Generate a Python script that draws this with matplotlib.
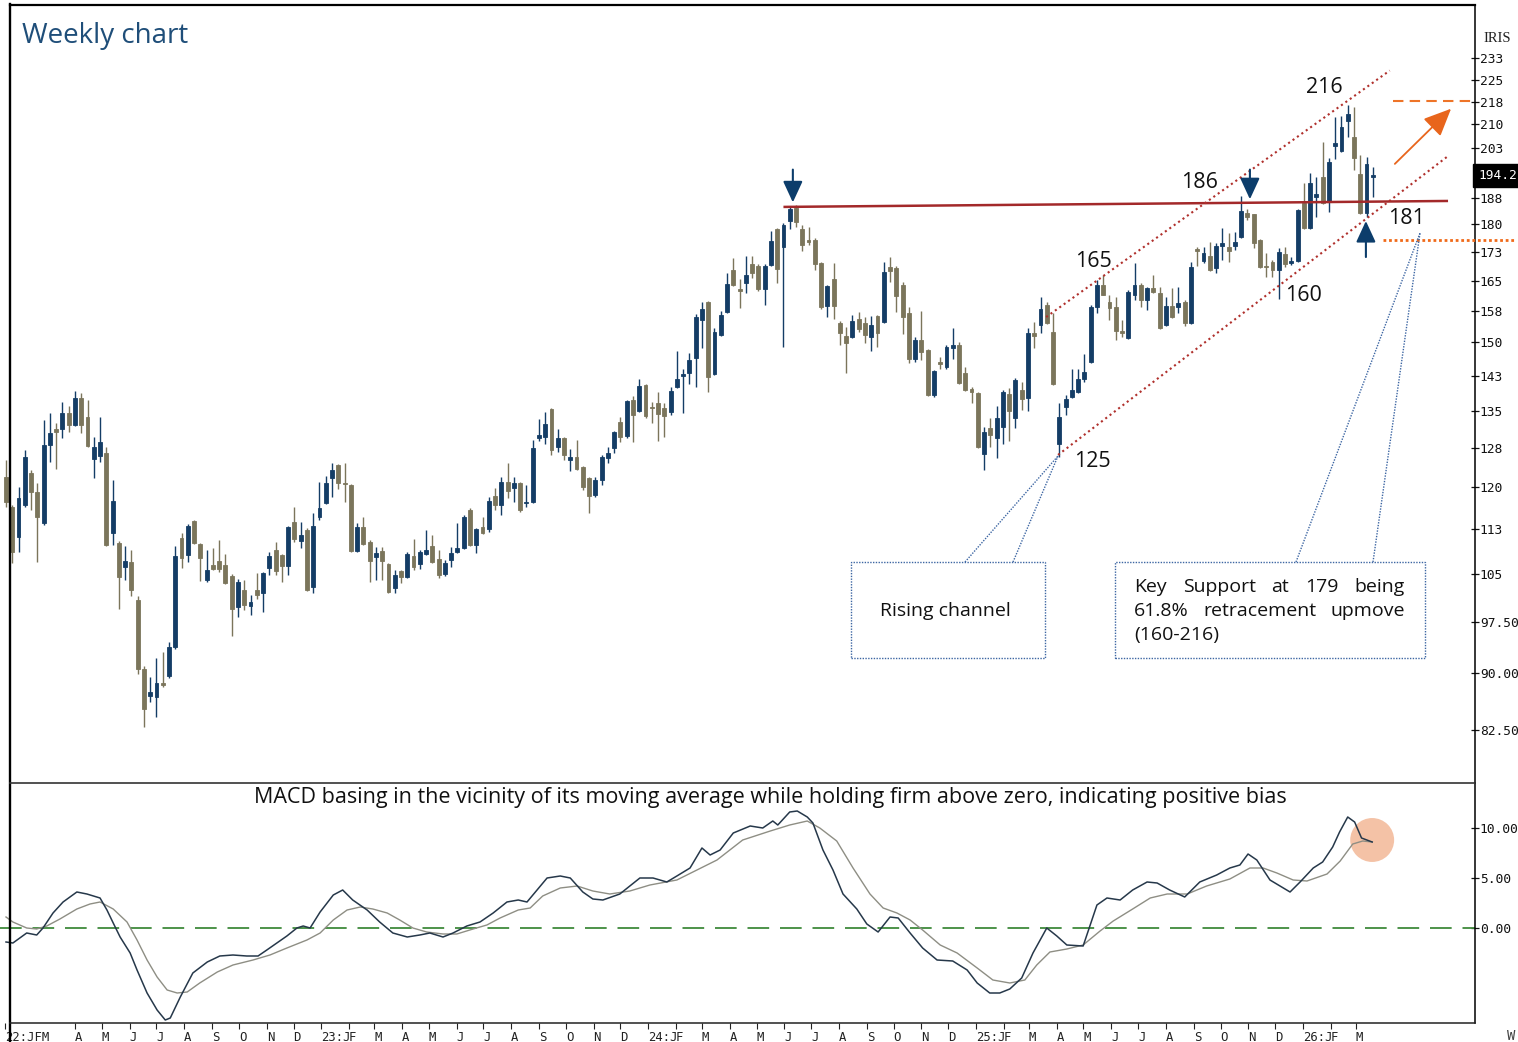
import numpy as np
import pandas as pd
import matplotlib
matplotlib.use("Agg")
import matplotlib.pyplot as plt
from matplotlib.lines import Line2D
from matplotlib.patches import Rectangle
from matplotlib.transforms import blended_transform_factory

plt.rcParams["font.family"] = ["Open Sans", "DejaVu Sans"]

# ── weekly OHLC ──────────────────────────────────────────────────────────────
first_bar = "2022-01-14"

opens = [
    121.9, 116.4, 111.1, 116.8, 122.6, 119.1, 113.6, 128.1, 131.3, 131.3,
    134.6, 132.1, 137.7, 133.7, 125.3, 125.9, 126.5, 111.8, 110.1, 106.1,
    106.9, 100.8, 90.6, 86.9, 86.8, 88.7, 89.7, 93.7, 110.9, 108.1,
    113.9, 109.9, 104.0, 106.4, 107.0, 106.4, 104.6, 99.7, 102.4, 99.9,
    102.4, 101.9, 105.9, 108.9, 108.1, 106.2, 113.7, 110.4, 112.3, 102.9,
    114.6, 117.1, 121.7, 124.1, 120.8, 120.4, 108.7, 112.8, 110.3, 107.7,
    108.7, 106.6, 102.7, 105.4, 104.5, 107.9, 106.6, 108.2, 109.6, 107.4,
    104.9, 107.2, 108.6, 109.2, 115.9, 109.7, 112.8, 112.5, 118.4, 116.8,
    120.9, 119.9, 120.8, 117.1, 117.3, 129.5, 129.7, 135.4, 127.7, 129.5,
    125.1, 125.7, 123.8, 121.7, 118.6, 121.3, 125.5, 127.5, 132.7, 129.9,
    137.3, 135.0, 140.5, 135.8, 136.7, 135.6, 134.8, 140.1, 142.5, 143.1,
    146.5, 155.3, 159.7, 142.9, 151.7, 157.2, 167.8, 162.9, 164.4, 169.3,
    168.8, 163.0, 169.1, 178.8, 173.8, 181.0, 184.6, 178.8, 175.7, 175.7,
    169.6, 158.7, 165.5, 154.6, 151.5, 151.3, 155.5, 154.6, 151.3, 156.3,
    154.8, 168.6, 168.3, 163.9, 157.0, 146.2, 150.6, 148.3, 138.3, 145.5,
    144.4, 148.8, 149.5, 143.1, 139.6, 138.8, 126.3, 131.5, 129.5, 131.7,
    138.6, 133.5, 139.4, 137.7, 152.2, 154.1, 159.0, 152.4, 128.3, 135.8,
    137.9, 139.0, 141.8, 145.6, 158.4, 163.9, 159.7, 158.4, 152.7, 151.1,
    161.5, 163.9, 160.2, 163.2, 161.9, 154.1, 158.7, 158.4, 159.7, 154.6,
    173.3, 170.1, 171.4, 168.3, 174.1, 173.8, 174.1, 176.5, 183.1, 182.8,
    175.7, 168.7, 169.9, 167.8, 172.0, 169.6, 170.1, 186.0, 179.0, 187.8,
    193.7, 186.3, 203.1, 201.6, 211.2, 206.0, 194.6, 183.1, 193.6,
]
highs = [
    125.1, 116.8, 120.0, 127.1, 123.2, 120.8, 133.1, 134.6, 132.5, 136.9,
    136.0, 139.2, 138.8, 137.3, 129.7, 133.7, 127.7, 121.3, 110.4, 109.6,
    108.9, 101.4, 91.0, 89.5, 92.2, 93.0, 94.5, 109.6, 111.8, 113.4,
    114.1, 110.1, 108.9, 109.2, 110.6, 108.2, 104.9, 104.2, 104.0, 101.6,
    105.1, 105.3, 108.6, 110.3, 108.3, 113.0, 116.4, 113.7, 112.7, 115.2,
    120.9, 122.1, 124.5, 124.3, 124.5, 120.6, 113.6, 114.6, 110.5, 109.4,
    109.4, 106.8, 105.6, 105.6, 108.6, 110.8, 108.9, 112.3, 111.5, 108.9,
    107.2, 109.4, 113.6, 115.0, 116.1, 112.7, 114.6, 118.2, 119.9, 121.9,
    124.5, 121.9, 121.0, 120.4, 129.1, 133.3, 134.8, 135.6, 131.3, 129.7,
    127.3, 129.1, 124.0, 121.9, 121.9, 126.1, 127.7, 130.9, 133.7, 137.3,
    138.1, 141.8, 140.7, 136.9, 139.0, 136.7, 140.1, 148.1, 144.0, 147.6,
    156.7, 159.7, 160.0, 153.4, 157.5, 167.0, 170.9, 165.5, 171.4, 171.4,
    169.3, 169.3, 178.2, 179.0, 180.4, 184.9, 185.4, 179.8, 179.3, 176.3,
    169.8, 163.9, 169.6, 155.0, 153.6, 156.5, 157.2, 156.0, 156.3, 156.5,
    169.9, 171.2, 168.8, 164.7, 158.4, 151.3, 157.5, 148.5, 143.8, 146.7,
    149.5, 153.4, 150.2, 144.4, 140.1, 139.0, 131.7, 133.5, 136.0, 139.4,
    139.8, 142.0, 141.2, 153.4, 154.8, 161.0, 159.7, 157.0, 136.7, 138.4,
    144.0, 144.0, 147.4, 159.0, 165.2, 166.5, 161.5, 161.0, 155.3, 162.7,
    169.6, 164.4, 163.4, 166.5, 163.4, 161.0, 163.2, 163.4, 160.2, 169.9,
    173.8, 173.8, 175.2, 174.9, 179.0, 177.6, 177.9, 188.0, 184.3, 183.0,
    175.9, 172.2, 170.4, 173.5, 173.8, 171.2, 184.3, 191.9, 194.9, 193.7,
    204.5, 199.4, 212.5, 212.8, 216.5, 215.8, 200.4, 199.7, 196.7,
]
lows = [
    116.4, 106.7, 108.6, 116.4, 115.9, 106.9, 113.2, 124.7, 123.4, 129.5,
    130.7, 131.8, 130.5, 127.7, 121.7, 124.7, 109.5, 109.7, 99.4, 104.0,
    101.4, 89.9, 82.9, 86.1, 84.2, 88.1, 89.4, 93.5, 105.9, 106.9,
    109.9, 103.8, 103.7, 105.6, 105.3, 103.3, 95.4, 98.2, 99.3, 98.5,
    101.0, 99.0, 104.8, 104.8, 103.7, 104.8, 110.3, 109.2, 102.2, 101.9,
    114.1, 116.9, 118.2, 119.7, 117.3, 108.5, 108.6, 109.7, 103.7, 104.0,
    104.0, 101.9, 101.9, 103.5, 104.3, 105.6, 105.8, 108.1, 106.7, 104.3,
    104.6, 106.1, 108.4, 109.0, 109.5, 108.4, 111.6, 112.0, 115.9, 115.0,
    118.0, 117.3, 115.4, 116.4, 117.1, 128.9, 128.3, 126.1, 126.7, 125.1,
    123.0, 123.2, 119.5, 115.2, 118.2, 120.4, 124.5, 126.5, 128.7, 129.5,
    128.7, 134.8, 133.5, 132.5, 128.9, 129.7, 134.1, 139.9, 134.6, 140.7,
    140.1, 148.8, 139.0, 142.7, 151.5, 157.0, 163.7, 158.2, 162.0, 165.7,
    162.5, 159.0, 168.8, 164.4, 149.0, 178.8, 179.3, 172.7, 174.3, 167.8,
    157.9, 156.0, 155.5, 149.5, 143.1, 151.1, 152.4, 149.9, 148.1, 149.0,
    154.6, 164.7, 157.2, 152.0, 145.4, 145.5, 146.0, 138.1, 137.9, 144.0,
    144.0, 146.2, 140.7, 139.2, 136.7, 127.5, 123.2, 127.7, 125.5, 128.3,
    128.9, 131.5, 135.2, 135.0, 148.8, 152.2, 154.4, 140.5, 125.7, 134.1,
    137.7, 138.8, 141.2, 145.3, 157.0, 161.3, 155.3, 150.6, 151.3, 150.8,
    160.2, 158.4, 157.7, 161.9, 153.2, 153.9, 155.8, 157.0, 153.9, 154.4,
    168.8, 169.6, 167.5, 167.0, 170.4, 169.9, 173.0, 176.3, 181.2, 173.5,
    168.3, 166.0, 166.0, 160.5, 168.6, 169.1, 169.9, 178.8, 178.8, 182.0,
    185.8, 183.4, 199.1, 201.4, 206.0, 195.8, 182.9, 182.0, 187.7,
]
closes = [
    117.3, 108.6, 118.0, 125.7, 119.1, 114.6, 128.1, 130.5, 130.7, 134.6,
    132.1, 137.7, 132.1, 127.9, 127.7, 128.7, 109.7, 117.4, 104.5, 107.0,
    102.4, 90.6, 85.2, 87.5, 88.7, 88.4, 93.7, 107.9, 107.5, 113.0,
    110.1, 107.5, 105.6, 105.8, 105.8, 103.5, 99.4, 103.7, 100.0, 100.5,
    101.6, 105.1, 107.9, 105.4, 106.2, 112.8, 110.8, 111.5, 102.4, 113.0,
    116.2, 120.8, 123.2, 120.8, 120.6, 108.7, 112.8, 109.9, 107.0, 108.4,
    107.0, 102.1, 104.8, 104.5, 108.2, 106.1, 108.6, 108.9, 106.9, 104.8,
    106.7, 108.4, 109.2, 114.6, 109.7, 112.5, 111.8, 117.4, 116.8, 120.9,
    119.3, 120.8, 115.9, 117.3, 127.5, 130.1, 132.3, 127.1, 129.5, 126.1,
    125.7, 123.4, 120.0, 118.4, 121.3, 125.7, 126.5, 130.7, 129.7, 137.1,
    134.1, 140.3, 133.9, 135.6, 134.4, 133.9, 139.2, 141.8, 142.9, 146.0,
    156.0, 157.9, 142.3, 152.4, 156.5, 164.2, 163.9, 162.5, 166.5, 167.0,
    163.0, 168.8, 175.4, 168.0, 179.8, 184.3, 180.7, 174.3, 175.2, 169.3,
    158.4, 163.7, 158.7, 152.2, 149.9, 155.0, 153.1, 151.7, 154.1, 152.2,
    167.3, 167.5, 161.2, 156.0, 146.2, 150.6, 147.8, 138.3, 143.6, 145.1,
    149.0, 149.5, 141.0, 139.4, 139.0, 127.7, 130.7, 130.1, 133.5, 139.0,
    135.0, 141.6, 137.5, 152.2, 151.5, 158.0, 154.6, 140.7, 133.7, 137.5,
    139.4, 141.8, 143.3, 158.4, 163.9, 161.5, 158.2, 152.6, 152.2, 162.2,
    163.9, 160.2, 163.2, 162.2, 153.4, 158.7, 156.0, 159.5, 154.6, 168.6,
    172.7, 172.2, 167.8, 174.1, 174.9, 172.7, 175.2, 183.7, 182.0, 174.9,
    168.6, 168.5, 167.8, 172.5, 169.3, 170.1, 184.0, 179.0, 191.9, 188.6,
    186.0, 198.2, 204.1, 209.2, 213.5, 199.4, 183.1, 197.6, 194.2,
]

# ── MACD panel (week index, value) ───────────────────────────────────────────
macd_wk = [
    0, 1.1, 3.3, 4.9, 5.9, 7.5, 9.1, 11.3, 12.9, 15.0,
    16.1, 17.1, 18.2, 19.8, 20.9, 22.5, 24.1, 25.4, 26.2, 27.8,
    29.8, 32.1, 34.1, 36.2, 38.4, 40.2, 41.6, 43.2, 44.8, 46.4,
    47.4, 48.5, 50.1, 52.2, 53.7, 55.3, 57.6, 59.6, 61.7, 64.0,
    66.0, 67.6, 69.7, 71.3, 73.5, 75.6, 77.7, 79.9, 81.7, 83.1,
    84.7, 86.3, 88.4, 90.0, 92.0, 93.6, 95.2, 97.9, 101.1, 103.2,
    105.4, 107.0, 109.1, 111.0, 112.3, 113.9, 116.0, 118.7, 120.7, 122.3,
    123.1, 125.0, 126.2, 127.8, 128.7, 130.3, 131.9, 133.5, 135.7, 137.3,
    139.1, 141.0, 142.3, 144.2, 146.2, 148.5, 151.0, 153.3, 154.9, 156.9,
    158.5, 160.1, 162.0, 163.8, 166.0, 167.6, 169.2, 171.8, 174.0, 175.6,
    177.7, 179.7, 182.0, 183.6, 185.6, 188.0, 190.4, 193.1, 195.2, 196.8,
    198.1, 199.5, 201.6, 204.8, 206.4, 208.5, 210.0, 211.6, 212.7, 214.0,
    215.1, 216.2, 217.9,
]
macd_val = [
    -1.4, -1.5, -0.5, -0.7, 0.0, 1.5, 2.6, 3.6, 3.4, 3.0,
    1.8, 0.5, -0.9, -2.5, -4.2, -6.5, -8.2, -9.2, -9.0, -6.9,
    -4.5, -3.4, -2.8, -2.7, -2.8, -2.8, -2.2, -1.5, -0.8, 0.0,
    0.2, 0.0, 1.6, 3.3, 3.8, 2.8, 1.8, 0.6, -0.5, -0.9,
    -0.7, -0.5, -0.9, -0.5, 0.2, 0.6, 1.5, 2.6, 2.8, 2.6,
    3.8, 5.0, 5.2, 5.0, 3.6, 2.9, 2.8, 3.4, 5.0, 5.0,
    4.6, 5.2, 6.0, 8.0, 7.3, 7.8, 9.5, 10.2, 10.0, 10.7,
    10.3, 11.6, 11.7, 11.1, 10.5, 7.8, 5.8, 3.4, 1.9, 0.4,
    -0.4, 1.1, 1.0, -0.5, -2.0, -3.2, -3.3, -4.2, -5.5, -6.5,
    -6.5, -6.1, -5.0, -2.5, 0.0, -0.8, -1.7, -1.8, 2.3, 3.0,
    2.8, 3.8, 4.6, 4.5, 3.8, 3.1, 4.6, 5.3, 6.0, 6.3,
    7.4, 6.8, 4.8, 3.6, 4.6, 6.0, 6.6, 8.1, 9.6, 11.1,
    10.6, 9.0, 8.6,
]
sig_wk = [
    0, 1.1, 3.3, 4.9, 6.5, 8.6, 11.3, 13.4, 15.0, 17.1,
    19.3, 20.9, 22.5, 24.1, 25.7, 27.3, 28.9, 30.9, 33.7, 36.2,
    39.4, 42.1, 44.8, 48.0, 50.1, 52.2, 54.4, 56.5, 58.5, 60.8,
    62.8, 64.9, 67.1, 69.7, 71.9, 74.5, 76.7, 78.8, 81.7, 83.6,
    85.6, 88.4, 91.1, 93.6, 96.3, 99.5, 102.7, 107.0, 110.2, 113.4,
    117.5, 121.9, 125.0, 127.8, 129.8, 132.5, 135.1, 137.8, 139.9, 142.1,
    144.2, 146.2, 149.0, 151.7, 154.9, 157.4, 160.1, 162.5, 164.4, 166.5,
    169.2, 171.8, 174.5, 176.6, 179.7, 182.5, 185.2, 188.4, 191.5, 195.2,
    198.4, 200.5, 202.7, 205.3, 207.5, 210.7, 212.8, 214.8, 216.4, 217.9,
]
sig_val = [
    1.1, 0.6, 0.0, -0.1, 0.2, 0.9, 1.9, 2.4, 2.6, 1.9,
    0.6, -1.2, -3.2, -4.9, -6.2, -6.5, -6.4, -5.5, -4.4, -3.7,
    -3.2, -2.7, -2.0, -1.2, -0.5, 0.8, 1.8, 2.1, 1.9, 1.5,
    0.8, 0.0, -0.4, -0.6, -0.6, -0.1, 0.3, 1.0, 1.8, 2.0,
    3.2, 4.0, 4.2, 3.7, 3.4, 3.7, 4.3, 4.8, 5.8, 6.8,
    8.8, 9.7, 10.3, 10.7, 10.0, 8.7, 6.0, 3.4, 2.0, 1.5,
    0.8, -0.2, -1.7, -2.5, -4.0, -5.2, -5.5, -5.2, -3.7, -2.4,
    -2.1, -1.7, -0.3, 0.7, 1.9, 3.0, 3.4, 3.4, 4.2, 4.9,
    6.0, 6.0, 5.5, 4.8, 4.7, 5.4, 6.7, 8.4, 8.7, 8.6,
]

# ── annotation levels ────────────────────────────────────────────────────────
price_ticks = [82.5, 90, 97.5, 105, 112.5, 120, 127.5, 135, 142.5, 150,
               157.5, 165, 172.5, 180, 187.5, 202.5, 210, 217.5, 225, 232.5]
price_tick_labels = ["82.50", "90.00", "97.50", "105", "113", "120", "128",
                     "135", "143", "150", "158", "165", "173", "180", "188",
                     "203", "210", "218", "225", "233"]
resist_wk, resist_px = [124.2, 229.8], [184.9, 186.6]
chan_up_wk, chan_up_px = [165.9, 220.7], [156.0, 228.2]
chan_lo_wk, chan_lo_px = [167.8, 229.8], [126.1, 199.7]
target_level = 217.7
support_level = 175.7
last_price = 194.2

UP = "#143d66"
DOWN = "#7b755b"
NAVY = "#0c3d6b"
ORANGE = "#ee7428"
RED = "#a3292a"
MONO = "DejaVu Sans Mono"

W, H = 1518, 1042
fig = plt.figure(figsize=(W / 100, H / 100), dpi=100)


def fx(px):
    return px / W


def fy(py):
    return 1 - py / H


ax = fig.add_axes([0, fy(783), fx(1475), fy(5) - fy(783)])
axm = fig.add_axes([0, fy(1023), fx(1475), fy(783) - fy(1023)])
xlim = (-0.957, 234.3)

# ── candles ──────────────────────────────────────────────────────────────────
o = np.array(opens); h = np.array(highs); l = np.array(lows); c = np.array(closes)
x = np.arange(len(c))
cols = np.where(c >= o, UP, DOWN)
ax.vlines(x, l, h, colors=cols, lw=1.0, zorder=2)
ax.bar(x, np.abs(c - o), bottom=np.minimum(o, c), width=0.62,
       color=cols, edgecolor=cols, linewidth=0.6, zorder=3)

ax.set_yscale("log")
ax.set_ylim(76.0, 252.5)
ax.set_xlim(*xlim)
ax.yaxis.tick_right()
ax.yaxis.set_minor_locator(plt.NullLocator())
ax.set_yticks(price_ticks)
ax.set_yticklabels(price_tick_labels)
ax.tick_params(axis="y", direction="inout", length=6, width=0.9, pad=0.5,
               labelsize=9.3, labelfontfamily=MONO, colors="#111")
ax.tick_params(axis="x", bottom=False, labelbottom=False)
for s in ["left", "top", "bottom"]:
    ax.spines[s].set_visible(False)
ax.spines["right"].set_linewidth(1.1)

# last price flag
bt = blended_transform_factory(ax.transAxes, ax.transData)
ax.text(1.002, last_price, f"{last_price:.1f}", transform=bt, ha="left",
        va="center", color="white", fontsize=9.3, family=MONO,
        bbox=dict(facecolor="black", edgecolor="black", pad=3.5), clip_on=False)

# resistance + channel
ax.plot(resist_wk, resist_px, color=RED, lw=1.8, zorder=4)
ax.plot(chan_up_wk, chan_up_px, color="#b0302c", lw=1.5, ls=(0, (1, 1.6)), zorder=4)
ax.plot(chan_lo_wk, chan_lo_px, color="#b0302c", lw=1.5, ls=(0, (1, 1.6)), zorder=4)

# target / support
ax.plot([221.2, 234.3], [target_level] * 2, color=ORANGE, lw=1.5,
        ls=(0, (5, 3)), zorder=4)
ax.plot([219.6, 240.7], [support_level] * 2, color="#f06a1a", lw=2.0,
        ls=(0, (1, 1)), zorder=4, clip_on=False)
ax.annotate("", xy=(230.8, 215.8), xytext=(221.2, 197.0),
            arrowprops=dict(arrowstyle="-|>,head_width=0.38,head_length=0.85",
                            color="#e8651c", lw=1.3, mutation_scale=20))

# navy arrows (week, tail, tip)
for wk, tail, tip in [(125.5, 196.7, 185.4), (198.4, 196.7, 186.3),
                      (216.9, 170.4, 181.7)]:
    ax.annotate("", xy=(wk, tip), xytext=(wk, tail),
                arrowprops=dict(arrowstyle="-|>,head_width=0.3,head_length=0.65",
                                color=NAVY, lw=1.5, mutation_scale=20),
                zorder=6)

# price labels
for txt, wk, pr in [("216", 210.2, 222.2), ("186", 190.4, 191.9),
                    ("165", 173.4, 169.9), ("125", 173.2, 124.9),
                    ("160", 206.9, 161.2), ("181", 223.4, 181.7)]:
    ax.text(wk, pr, txt, ha="center", va="center", fontsize=15.5, color="#111",
            zorder=7)

# ── MACD panel ───────────────────────────────────────────────────────────────
axm.set_xlim(*xlim)
axm.set_ylim(-9.5, 14.5)
axm.scatter([217.9], [8.8], s=1000, color="#f4c2a6", edgecolors="none", zorder=1)
axm.axhline(0, color="#3f8a3c", lw=1.3, ls=(0, (12, 6)), zorder=2)
axm.plot(sig_wk, sig_val, color="#8e8e84", lw=1.0, zorder=3)
axm.plot(macd_wk, macd_val, color="#26384a", lw=1.1, zorder=4)
axm.yaxis.tick_right()
axm.set_yticks([0, 5, 10])
axm.set_yticklabels(["0.00", "5.00", "10.00"])
axm.tick_params(axis="y", direction="inout", length=6, width=0.9, pad=0.5,
                labelsize=9.3, labelfontfamily=MONO, colors="#111")
for s in ["left", "top", "bottom"]:
    axm.spines[s].set_visible(False)
axm.spines["right"].set_linewidth(1.1)

bar_dates = pd.date_range(first_bar, periods=len(closes), freq="7D")
month_starts = pd.date_range("2022-04-01", "2026-03-01", freq="MS")
month_pos = list((month_starts - bar_dates[0]).days / 7.0)
month_lab = [(d.strftime("%y") + ":" if d.month == 1 else "") + "JFMAMJJASOND"[d.month - 1]
             for d in month_starts]
axm.set_xticks([-0.2] + month_pos)
axm.set_xticklabels(["22:JFM"] + month_lab)
axm.tick_params(axis="x", direction="out", length=4, width=0.8, pad=2,
                labelsize=8.8, labelfontfamily=MONO, colors="#222")
for t in axm.get_xticklabels():
    t.set_horizontalalignment("left")

# ── frame lines ──────────────────────────────────────────────────────────────
for (x0, y0, x1, y1, lw, col) in [(10, 5, 1475, 5, 1.6, "black"),
                                  (10, 4, 10, 1042, 1.7, "black"),
                                  (10, 783, 1475, 783, 1.2, "#333"),
                                  (10, 1023, 1475, 1023, 1.1, "#222")]:
    fig.add_artist(Line2D([fx(x0), fx(x1)], [fy(y0), fy(y1)], color=col, lw=lw))

# ── texts ────────────────────────────────────────────────────────────────────
fig.text(fx(22), fy(36), "Weekly chart", ha="left", va="center", fontsize=20,
         color="#1f4e79")
fig.text(fx(1497), fy(39), "IRIS", ha="center", va="center", fontsize=10.5,
         family="Liberation Serif", color="#222")
fig.text(fx(1507), fy(1036), "W", ha="left", va="center", fontsize=10,
         family=MONO, color="#444")
fig.text(fx(770), fy(798),
         "MACD basing in the vicinity of its moving average while holding firm "
         "above zero, indicating positive bias",
         ha="center", va="center", fontsize=15.5, color="#111")

# callout boxes
BOX = "#3d66a3"
for (bx0, by0, bx1, by1) in [(851, 562, 1045, 658), (1115, 562, 1425, 658)]:
    fig.add_artist(Rectangle((fx(bx0), fy(by1)), fx(bx1) - fx(bx0), fy(by0) - fy(by1),
                             transform=fig.transFigure, fill=False, edgecolor=BOX,
                             lw=1.0, ls=(0, (1, 1))))
for (x0, y0, x1, y1) in [(965, 562, 1058, 456), (1013, 562, 1058, 456),
                         (1296, 562, 1420, 233), (1373, 562, 1420, 233)]:
    fig.add_artist(Line2D([fx(x0), fx(x1)], [fy(y0), fy(y1)], color=BOX,
                          lw=1.0, ls=(0, (1, 1))))

fig.text(fx(945), fy(611), "Rising channel", ha="center", va="center",
         fontsize=14, color="#111")

renderer = fig.canvas.get_renderer()


def justify(words, x0, x1, yc, justify_line=True):
    texts = [fig.text(fx(x0), fy(yc), w, ha="left", va="center", fontsize=14,
                      color="#111") for w in words]
    widths = [t.get_window_extent(renderer).width for t in texts]
    if justify_line and len(words) > 1:
        gap = (x1 - x0 - sum(widths)) / (len(words) - 1)
    else:
        gap = 5
    pos = x0
    for t, wd in zip(texts, widths):
        t.set_x(fx(pos))
        pos += wd + gap


justify("Key Support at 179 being".split(), 1134, 1405, 587)
justify("61.8% retracement upmove".split(), 1134, 1405, 611)
justify(["(160-216)"], 1134, 1405, 635, justify_line=False)

fig.savefig("out.png", dpi=100)
